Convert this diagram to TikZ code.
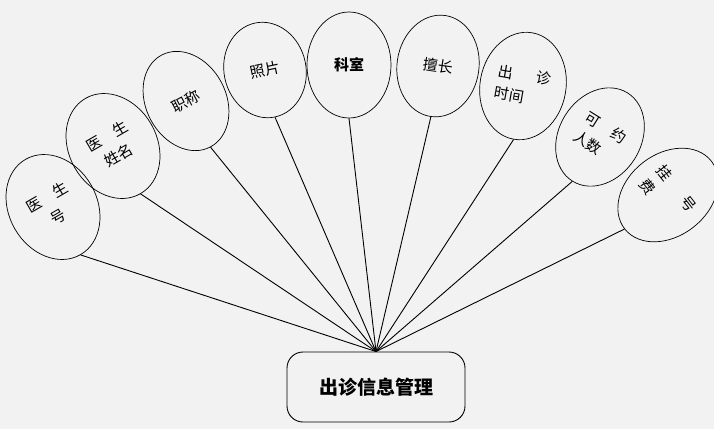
\documentclass[tikz,border=0pt]{standalone}
\usepackage{fontspec}
\setmainfont{Noto Sans CJK SC}
\usetikzlibrary{shapes.geometric}

\begin{document}
\begin{tikzpicture}[x=1pt,y=-1pt,
    attr/.style={draw,ellipse,line width=0.7pt,inner sep=0pt,
      font=\fontsize{15}{22}\selectfont},
    ent/.style={draw,rounded corners=16pt,line width=0.9pt,
      minimum width=178pt,minimum height=70pt,
      font=\fontsize{19}{23}\selectfont\bfseries}]
  \fill[black!5] (0,0) rectangle (714,429);
  \useasboundingbox (0,0) rectangle (714,429);

  \node[ent] (mgr) at (376,387) {出诊信息管理};

  \node[attr,minimum width=88pt,minimum height=110pt,rotate=30,align=center] (dno) at (53,207) {医\hspace{1em}生\\号};
  \node[attr,minimum width=88pt,minimum height=110pt,rotate=30,align=center] (dname) at (113,146) {医\hspace{1em}生\\姓名};
  \node[attr,minimum width=80pt,minimum height=104pt,rotate=28] (title) at (186,101) {职称};
  \node[attr,minimum width=82pt,minimum height=96pt,rotate=12] (photo) at (265,70) {照片};
  \node[attr,minimum width=84pt,minimum height=106pt,font=\fontsize{15}{22}\selectfont\bfseries] (dept) at (349,65) {科室};
  \node[attr,minimum width=82pt,minimum height=102pt,rotate=-8] (skill) at (438,66) {擅长};
  \node[attr,minimum width=86pt,minimum height=108pt,rotate=-10,align=left] (time) at (523,86) {出\hspace{1.6em}诊\\时间};
  \node[attr,minimum width=82pt,minimum height=104pt,rotate=-32,align=left] (quota) at (600,137) {可\hspace{1em}约\\人数};
  \node[attr,minimum width=82pt,minimum height=110pt,rotate=-52,align=left] (fee) at (668,195) {挂\hspace{1.6em}号\\费};

  \foreach \n in {dno,dname,title,photo,dept,skill,time,quota,fee}
    \draw[line width=0.9pt] (\n.south) -- (mgr.north);
\end{tikzpicture}
\end{document}
